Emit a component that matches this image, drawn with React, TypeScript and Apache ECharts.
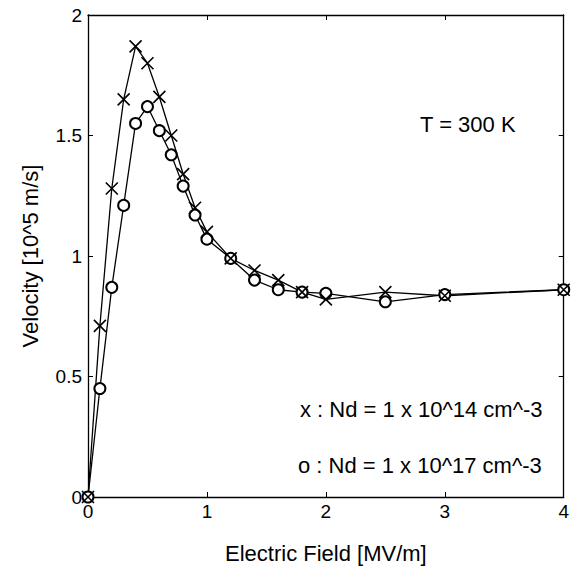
import React, { useEffect, useRef } from "react";
import * as echarts from "echarts";

const fieldValues = [0, 0.1, 0.2, 0.3, 0.4, 0.5, 0.6, 0.7, 0.8, 0.9, 1.0, 1.2, 1.4, 1.6, 1.8, 2.0, 2.5, 3.0, 4.0];
const velocityNd14 = [0, 0.71, 1.28, 1.65, 1.87, 1.80, 1.66, 1.50, 1.34, 1.20, 1.10, 0.99, 0.94, 0.90, 0.85, 0.82, 0.85, 0.835, 0.86];
const velocityNd17 = [0, 0.45, 0.87, 1.21, 1.55, 1.62, 1.52, 1.42, 1.29, 1.17, 1.07, 0.99, 0.90, 0.86, 0.85, 0.845, 0.81, 0.84, 0.86];
const xTicks = ["0", "1", "2", "3", "4"];
const yTicks = ["0", "0.5", "1", "1.5", "2"];

const FONT = "Liberation Sans, Arial, Helvetica, sans-serif";

export default function App() {
  const ref = useRef<HTMLDivElement>(null);
  useEffect(() => {
    const chart = echarts.init(ref.current!, null, { renderer: "svg" });
    const pair = (ys: number[]) => fieldValues.map((x, i) => [x, ys[i]]);
    const axisCommon = {
      axisLine: { show: true, onZero: false, lineStyle: { color: "#000", width: 1.3 } },
      axisTick: { show: true, inside: true, length: 5, lineStyle: { color: "#000" } },
      splitLine: { show: false },
    };
    chart.setOption({
      animation: false,
      backgroundColor: "#fff",
      grid: { left: 88, right: 4, top: 15, bottom: 82 },
      xAxis: [
        {
          type: "value", min: 0, max: 4, interval: 1, position: "bottom",
          ...axisCommon,
          axisLabel: { color: "#000", fontSize: 19, fontFamily: FONT, margin: 5, formatter: (v: number) => xTicks[Math.round(v)] },
          name: "Electric Field [MV/m]", nameLocation: "middle", nameGap: 45,
          nameTextStyle: { color: "#000", fontSize: 22, fontFamily: FONT },
        },
        { type: "value", min: 0, max: 4, interval: 1, position: "top", ...axisCommon, axisLabel: { show: false } },
      ],
      yAxis: [
        {
          type: "value", min: 0, max: 2, interval: 0.5, position: "left",
          ...axisCommon,
          axisLabel: { color: "#000", fontSize: 19, fontFamily: FONT, margin: 6, formatter: (v: number) => yTicks[Math.round(v * 2)] },
          name: "Velocity [10^5 m/s]", nameLocation: "middle", nameGap: 47,
          nameTextStyle: { color: "#000", fontSize: 22, fontFamily: FONT },
        },
        { type: "value", min: 0, max: 2, interval: 0.5, position: "right", ...axisCommon, axisLabel: { show: false } },
      ],
      series: [
        {
          type: "line", data: pair(velocityNd17), symbol: "emptyCircle", symbolSize: 11,
          lineStyle: { color: "#000", width: 1.3 },
          itemStyle: { color: "#000", borderColor: "#000", borderWidth: 1.2 },
        },
        {
          type: "line", data: pair(velocityNd14), symbol: "path://M0,0L10,10M10,0L0,10", symbolSize: 12,
          lineStyle: { color: "#000", width: 1.3 },
          itemStyle: { color: "#000", borderColor: "#000", borderWidth: 1.6 },
        },
      ],
      graphic: [
        { type: "text", left: 420, top: 113, style: { text: "T = 300 K", fill: "#000", font: `22px ${FONT}` } },
        { type: "text", left: 300, top: 398, style: { text: "x : Nd = 1 x 10^14 cm^-3", fill: "#000", font: `22px ${FONT}` } },
        { type: "text", left: 298, top: 454, style: { text: "o : Nd = 1 x 10^17 cm^-3", fill: "#000", font: `22px ${FONT}` } },
      ],
    });
    return () => chart.dispose();
  }, []);
  return <div ref={ref} style={{ width: 572, height: 579, position: "absolute", left: 0, top: 0 }} />;
}
